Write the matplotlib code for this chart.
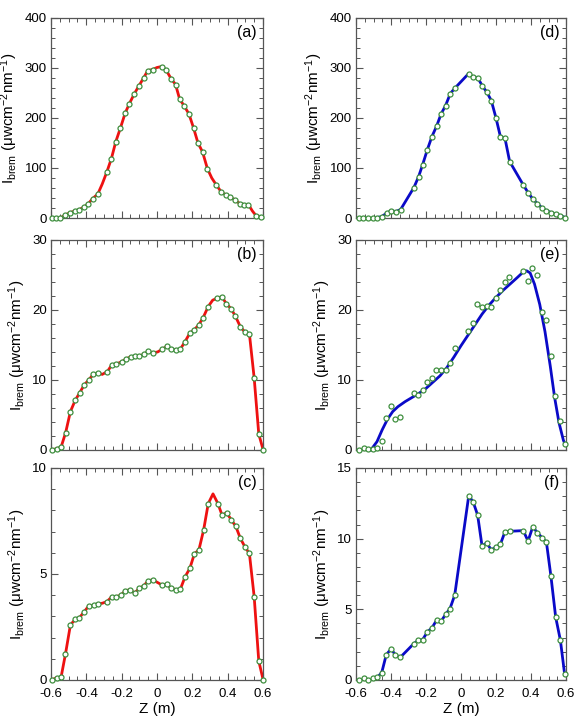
import numpy as np
import matplotlib
matplotlib.use("Agg")
import matplotlib.pyplot as plt
from matplotlib.ticker import MultipleLocator

plt.rcParams['font.family'] = ['Liberation Sans', 'DejaVu Sans']
plt.rcParams['mathtext.fontset'] = 'custom'
plt.rcParams['mathtext.rm'] = 'Liberation Sans'
plt.rcParams['mathtext.it'] = 'Liberation Sans:italic'

# ---- data ----
a_z = [-0.594, -0.572, -0.547, -0.519, -0.49, -0.464, -0.439, -0.413, -0.388, -0.364,
       -0.335, -0.284, -0.258, -0.233, -0.207, -0.18, -0.156, -0.129, -0.103, -0.076,
       -0.052, -0.025, 0.026, 0.05, 0.079, 0.105, 0.128, 0.154, 0.181, 0.207,
       0.232, 0.258, 0.285, 0.336, 0.362, 0.389, 0.415, 0.441, 0.468, 0.494,
       0.517, 0.562, 0.59]
a_i = [0, 0, 0, 6, 11, 14, 17, 22, 29, 39,
       48, 92, 119, 153, 180, 210, 229, 248, 264, 280,
       295, 297, 303, 297, 279, 267, 238, 224, 208, 180,
       150, 132, 99, 66, 53, 46, 42, 36, 29, 27,
       27, 4, 3]
a_gap_z = [-0.31, 0.0, 0.31, 0.54]
a_gap_i = [68, 301, 80, 14]

b_z = [-0.596, -0.568, -0.543, -0.517, -0.49, -0.463, -0.437, -0.412, -0.387, -0.361,
       -0.334, -0.281, -0.255, -0.23, -0.2, -0.175, -0.15, -0.126, -0.1, -0.074,
       -0.049, -0.023, 0.03, 0.055, 0.081, 0.106, 0.132, 0.159, 0.186, 0.212,
       0.237, 0.261, 0.29, 0.341, 0.368, 0.392, 0.419, 0.444, 0.472, 0.499,
       0.523, 0.55, 0.576, 0.601]
b_i = [0, 0.2, 0.4, 2.5, 5.5, 7.1, 8.2, 9.3, 10.0, 10.8,
       11.0, 11.2, 12.2, 12.3, 12.6, 13.0, 13.3, 13.4, 13.4, 13.7,
       14.1, 13.9, 14.4, 14.8, 14.4, 14.3, 14.4, 15.5, 16.7, 17.2,
       17.9, 18.9, 20.5, 21.7, 21.9, 20.9, 20.2, 19.1, 17.6, 16.8,
       16.6, 10.3, 2.3, 0]
b_gap_z = [-0.31, 0.003, 0.315]
b_gap_i = [10.8, 14.0, 21.4]

c_z = [-0.596, -0.568, -0.543, -0.518, -0.49, -0.463, -0.439, -0.412, -0.386, -0.359,
       -0.334, -0.283, -0.257, -0.23, -0.205, -0.179, -0.152, -0.127, -0.101, -0.074,
       -0.05, -0.023, 0.028, 0.055, 0.079, 0.106, 0.132, 0.159, 0.186, 0.212,
       0.237, 0.264, 0.29, 0.345, 0.368, 0.394, 0.421, 0.446, 0.472, 0.499,
       0.523, 0.55, 0.576, 0.601]
c_i = [0, 0.11, 0.13, 1.23, 2.6, 2.86, 2.94, 3.22, 3.5, 3.52,
       3.6, 3.7, 3.92, 3.93, 4.0, 4.21, 4.26, 4.1, 4.32, 4.45,
       4.69, 4.72, 4.48, 4.51, 4.34, 4.26, 4.28, 4.87, 5.27, 5.96,
       6.13, 7.08, 8.32, 8.32, 7.78, 7.89, 7.55, 7.25, 6.68, 6.26,
       5.97, 3.93, 0.9, 0]
c_gap_z = [-0.31, 0.003, 0.317]
c_gap_i = [3.62, 4.6, 8.78]

d_z = [-0.585, -0.558, -0.531, -0.505, -0.478, -0.451, -0.425, -0.398, -0.371, -0.345,
       -0.269, -0.242, -0.219, -0.192, -0.166, -0.139, -0.114, -0.088, -0.061, -0.034,
       0.044, 0.069, 0.095, 0.122, 0.147, 0.173, 0.2, 0.225, 0.251, 0.278,
       0.356, 0.383, 0.41, 0.436, 0.463, 0.488, 0.514, 0.541, 0.568, 0.594]
d_i = [0, 0, 0, 0, 1, 3, 10, 14, 13, 17,
       61, 83, 107, 137, 163, 184, 208, 225, 249, 260,
       289, 282, 281, 264, 252, 235, 200, 163, 160, 113,
       66, 51, 38, 29, 20, 15, 11, 8, 5, 1]

e_z = [-0.585, -0.556, -0.531, -0.505, -0.48, -0.453, -0.429, -0.402, -0.375, -0.349,
       -0.27, -0.244, -0.219, -0.192, -0.168, -0.141, -0.114, -0.088, -0.063, -0.036,
       0.042, 0.067, 0.093, 0.12, 0.147, 0.171, 0.198, 0.225, 0.251, 0.276,
       0.354, 0.381, 0.408, 0.434, 0.461, 0.486, 0.512, 0.539, 0.566, 0.592]
e_i = [0, 0.24, 0.1, 0.1, 0.33, 1.33, 4.64, 6.26, 4.45, 4.74,
       8.15, 7.87, 8.58, 9.67, 10.28, 11.5, 11.47, 11.5, 12.46, 14.64,
       16.97, 18.1, 20.8, 20.43, 20.6, 20.43, 21.66, 22.84, 24.03, 24.74,
       25.59, 24.17, 26.07, 25.02, 19.72, 18.63, 13.5, 7.77, 4.08, 0.9]
# fitted curve in (e)
e_fit_z = [-0.515, -0.48, -0.45, -0.42, -0.39, -0.36, -0.32, -0.28, -0.24, -0.20,
           -0.16, -0.12, -0.08, -0.04, 0.0, 0.04, 0.08, 0.12, 0.16, 0.20,
           0.24, 0.28, 0.32, 0.35, 0.375, 0.395, 0.42, 0.45, 0.48, 0.51,
           0.535, 0.56, 0.585, 0.595]
e_fit_i = [0, 1.2, 2.9, 4.4, 5.5, 6.2, 6.9, 7.5, 8.1, 8.8,
           9.7, 10.6, 11.8, 13.3, 14.9, 16.4, 17.9, 19.4, 20.7, 21.8,
           22.8, 23.7, 24.6, 25.3, 25.6, 25.3, 23.7, 20.8, 16.9, 12.0,
           7.5, 3.9, 1.4, 0.8]

f_z = [-0.585, -0.556, -0.531, -0.505, -0.478, -0.453, -0.427, -0.4, -0.375, -0.347,
       -0.27, -0.244, -0.219, -0.192, -0.166, -0.139, -0.112, -0.088, -0.063, -0.036,
       0.044, 0.069, 0.095, 0.12, 0.147, 0.173, 0.2, 0.225, 0.251, 0.278,
       0.356, 0.383, 0.41, 0.436, 0.463, 0.488, 0.514, 0.541, 0.568, 0.592]
f_i = [0, 0.17, 0.02, 0.12, 0.19, 0.52, 1.79, 2.19, 1.79, 1.6,
       2.57, 2.81, 2.86, 3.4, 3.69, 4.24, 4.19, 4.64, 5.05, 6.0,
       13.02, 12.62, 11.67, 9.5, 9.69, 9.21, 9.4, 9.6, 10.48, 10.52,
       10.57, 9.83, 10.83, 10.43, 10.07, 9.76, 7.33, 4.45, 2.81, 0.43]

ylims = {'a': (400, 100, 20), 'b': (30, 10, 2), 'c': (10, 5, 1),
         'd': (400, 100, 20), 'e': (30, 10, 2), 'f': (15, 5, 1)}

RED = '#ee1111'
BLUE = '#0a0ac8'
GREEN = '#3f8f3f'
SPINE = '#555555'


def merge(z, i, gz, gi):
    zz = np.array(list(z) + list(gz))
    ii = np.array(list(i) + list(gi))
    o = np.argsort(zz)
    return zz[o], ii[o]


fig = plt.figure(figsize=(5.77, 7.18), dpi=100)
W, H = 577, 718
lefts = {0: 51, 1: 356}
widths = {0: 212, 1: 210}
rows = [(18, 218), (240, 450), (468, 680)]

axes = {}
for col, names in enumerate(['abc', 'def']):
    for r, name in enumerate(names):
        top, bot = rows[r]
        ax = fig.add_axes([lefts[col] / W, 1 - bot / H, widths[col] / W, (bot - top) / H])
        axes[name] = ax

lines = {
    'a': merge(a_z, a_i, a_gap_z, a_gap_i),
    'b': merge(b_z, b_i, b_gap_z, b_gap_i),
    'c': merge(c_z, c_i, c_gap_z, c_gap_i),
    'd': (np.array(d_z[4:]), np.array(d_i[4:])),
    'e': (np.array(e_fit_z), np.array(e_fit_i)),
    'f': (np.array(f_z[4:]), np.array(f_i[4:])),
}
points = {'a': (a_z, a_i), 'b': (b_z, b_i), 'c': (c_z, c_i),
          'd': (d_z, d_i), 'e': (e_z, e_i), 'f': (f_z, f_i)}

for name, ax in axes.items():
    color = RED if name in 'abc' else BLUE
    lz, li = lines[name]
    ax.plot(lz, li, color=color, lw=2.0, zorder=2, clip_on=False)
    pz, pi = points[name]
    ax.plot(pz, pi, 'o', ms=3.6, mfc='white', mec=GREEN, mew=0.9, zorder=3, clip_on=False)

    top, major, minor = ylims[name]
    ax.set_xlim(-0.6, 0.6)
    ax.set_ylim(0, top)
    ax.xaxis.set_major_locator(MultipleLocator(0.2))
    ax.xaxis.set_minor_locator(MultipleLocator(0.05))
    ax.yaxis.set_major_locator(MultipleLocator(major))
    ax.yaxis.set_minor_locator(MultipleLocator(minor))
    ax.tick_params(which='both', direction='in', top=True, right=True,
                   color=SPINE, labelsize=9.5, pad=3)
    ax.tick_params(axis='x', pad=6)
    ax.tick_params(which='major', length=5, width=0.8)
    ax.tick_params(which='minor', length=2.8, width=0.7)
    for s in ax.spines.values():
        s.set_color(SPINE)
        s.set_linewidth(0.9)
    ax.set_ylabel(r'I$_{\rm brem}$ ($\rm\mu$wcm$^{-2}$nm$^{-1}$)', fontsize=11, labelpad=3)
    ax.text(0.97, 0.965, '(%s)' % name, transform=ax.transAxes, ha='right', va='top',
            fontsize=11.5)
    if name in 'cf':
        ax.set_xticks([-0.6, -0.4, -0.2, 0, 0.2, 0.4, 0.6])
        ax.set_xticklabels(['-0.6', '-0.4', '-0.2', '0', '0.2', '0.4', '0.6'])
        ax.set_xlabel('Z (m)', fontsize=11, labelpad=1)
    else:
        ax.tick_params(labelbottom=False)

fig.savefig('out.png', dpi=100)
